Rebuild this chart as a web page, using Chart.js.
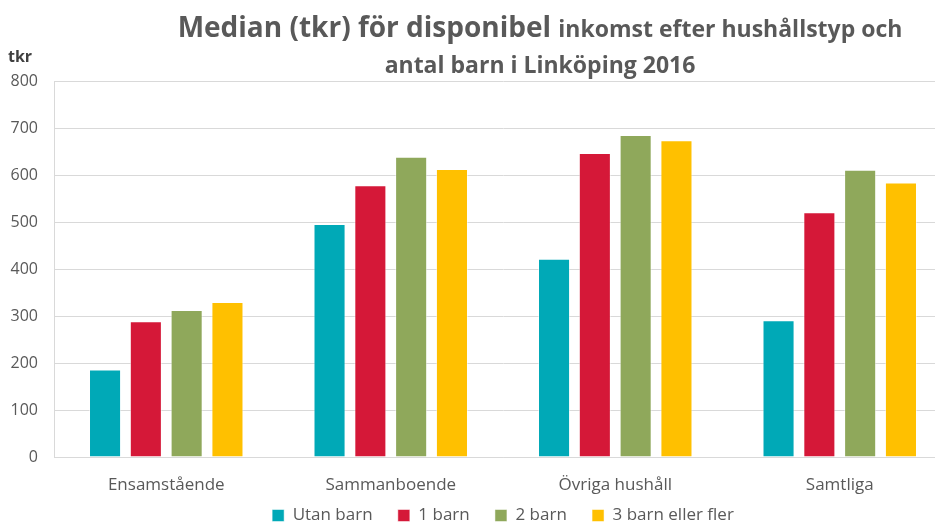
<!DOCTYPE html>
<html lang="sv">
<head>
    <meta charset="UTF-8">
    <title>Median disponibel inkomst Linköping 2016</title>
    <script src="https://cdn.jsdelivr.net/npm/chart.js"></script>
    <style>
        html, body {
            margin: 0;
            padding: 0;
            background: #fff;
            overflow: hidden;
        }
        /* the plot runs a little past the right edge in the original */
        #wrap {
            width: 952px;
            height: 522px;
        }
    </style>
</head>
<body>
    <div id="wrap"><canvas id="chart"></canvas></div>

    <script>
        const categories = ['Ensamstående', 'Sammanboende', 'Övriga hushåll', 'Samtliga'];
        const seriesNames = ['Utan barn', '1 barn', '2 barn', '3 barn eller fler'];
        const utanBarn = [186, 496, 422, 291];
        const ettBarn = [289, 578, 647, 521];
        const tvaBarn = [313, 639, 685, 611];
        const treBarn = [330, 613, 674, 584];
        const colors = ['#00A9B7', '#D51838', '#8FA85B', '#FFC000'];

        const font = "'Open Sans', sans-serif";
        const grey = '#595959';

        // title with mixed sizes + the "tkr" unit label
        const titlePlugin = {
            id: 'mixedTitle',
            afterDraw(chart) {
                const ctx = chart.ctx;
                ctx.save();
                ctx.fillStyle = grey;
                ctx.textBaseline = 'alphabetic';
                const big = 'bold 28px ' + font;
                const small = 'bold 23px ' + font;
                const p1 = 'Median (tkr) för disponibel ';
                const p2 = 'inkomst efter hushållstyp och';
                ctx.font = big;
                const w1 = ctx.measureText(p1).width;
                ctx.font = small;
                const w2 = ctx.measureText(p2).width;
                const cx = 540;
                let x = cx - (w1 + w2) / 2;
                ctx.font = big;
                ctx.fillText(p1, x, 37);
                ctx.font = small;
                ctx.fillText(p2, x + w1, 37);
                ctx.textAlign = 'center';
                ctx.fillText('antal barn i Linköping 2016', cx, 73);

                ctx.textAlign = 'left';
                ctx.font = 'bold 16px ' + font;
                ctx.fillStyle = '#404040';
                ctx.fillText('tkr', 8, 62);
                ctx.restore();
            }
        };

        const data = {
            labels: categories,
            datasets: [utanBarn, ettBarn, tvaBarn, treBarn].map((vals, i) => ({
                label: seriesNames[i],
                data: vals,
                backgroundColor: colors[i],
                borderColor: 'rgba(255,255,255,0.5)',
                borderWidth: 1,
                categoryPercentage: 0.727,
                barPercentage: 0.786
            }))
        };

        new Chart(document.getElementById('chart'), {
            type: 'bar',
            data,
            plugins: [titlePlugin],
            options: {
                responsive: true,
                maintainAspectRatio: false,
                animation: false,
                layout: {
                    padding: { top: 81, left: 6, right: 0, bottom: -12 }
                },
                plugins: {
                    title: { display: false },
                    tooltip: { enabled: false },
                    legend: {
                        position: 'bottom',
                        fullSize: false,
                        labels: {
                            boxWidth: 12,
                            boxHeight: 12,
                            padding: 12,
                            color: grey,
                            font: { family: font, size: 17 },
                            // wider gaps between the items than the padding gives
                            generateLabels(chart) {
                                const items = Chart.defaults.plugins.legend.labels.generateLabels(chart);
                                items.forEach((it, i) => {
                                    if (i < items.length - 1) it.text += '   ';
                                });
                                return items;
                            }
                        }
                    }
                },
                scales: {
                    x: {
                        afterFit(scale) { scale.height = 38; },
                        grid: { display: false, drawTicks: false },
                        border: { color: '#d9d9d9', width: 1 },
                        ticks: {
                            color: grey,
                            padding: 18,
                            font: { family: font, size: 17 }
                        }
                    },
                    y: {
                        min: 0,
                        max: 800,
                        afterFit(scale) { scale.width = 48; },
                        ticks: {
                            stepSize: 100,
                            color: grey,
                            padding: 16,
                            font: { family: font, size: 16 }
                        },
                        grid: { color: '#d9d9d9', drawTicks: false },
                        border: { color: '#d9d9d9', width: 1 }
                    }
                }
            }
        });
    </script>
</body>
</html>
